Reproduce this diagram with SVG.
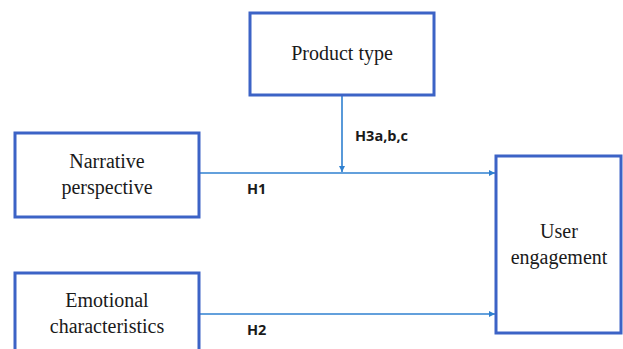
<svg xmlns="http://www.w3.org/2000/svg" width="623" height="349" viewBox="0 0 623 349">
<style>
.box{fill:#fff;stroke:#3c63c6;stroke-width:3}
.t{font-family:"Liberation Serif","Times New Roman","DejaVu Serif",serif;font-size:20px;fill:#1a1a1a;text-anchor:middle}
.l{font-family:"Open Sans","DejaVu Sans",sans-serif;font-size:14.5px;font-weight:bold;fill:#1a1a1a}
.c{stroke:#2f80d0;stroke-width:1.6;fill:none}
</style>
<defs>
<marker id="ah" viewBox="0 0 10 10" refX="10" refY="5" markerWidth="6" markerHeight="6" markerUnits="userSpaceOnUse" orient="auto">
<path d="M0,0 L10,5 L0,10 z" fill="#2f80d0"/>
</marker>
</defs>
<rect width="623" height="349" fill="#fff"/>
<g id="connectors">
<line class="c" x1="342" y1="95" x2="342" y2="172" marker-end="url(#ah)"/>
<line class="c" x1="199" y1="173" x2="495" y2="173" marker-end="url(#ah)"/>
<line class="c" x1="199" y1="314" x2="495" y2="314" marker-end="url(#ah)"/>
<text class="l" x="355" y="141">H3a,b,c</text>
<text class="l" x="247" y="194">H1</text>
<text class="l" x="247" y="335">H2</text>
</g>
<g id="product">
<rect class="box" x="250" y="13" width="184" height="82"/>
<text class="t" x="342" y="60">Product type</text>
</g>
<g id="narrative">
<rect class="box" x="15" y="133" width="184" height="84"/>
<text class="t" x="107" y="168">Narrative</text>
<text class="t" x="107" y="194">perspective</text>
</g>
<g id="emotional">
<rect class="box" x="15" y="273" width="184" height="90"/>
<text class="t" x="107" y="307">Emotional</text>
<text class="t" x="107" y="333">characteristics</text>
</g>
<g id="user">
<rect class="box" x="496" y="156" width="125" height="177"/>
<text class="t" x="559" y="238">User</text>
<text class="t" x="559" y="264">engagement</text>
</g>
</svg>
